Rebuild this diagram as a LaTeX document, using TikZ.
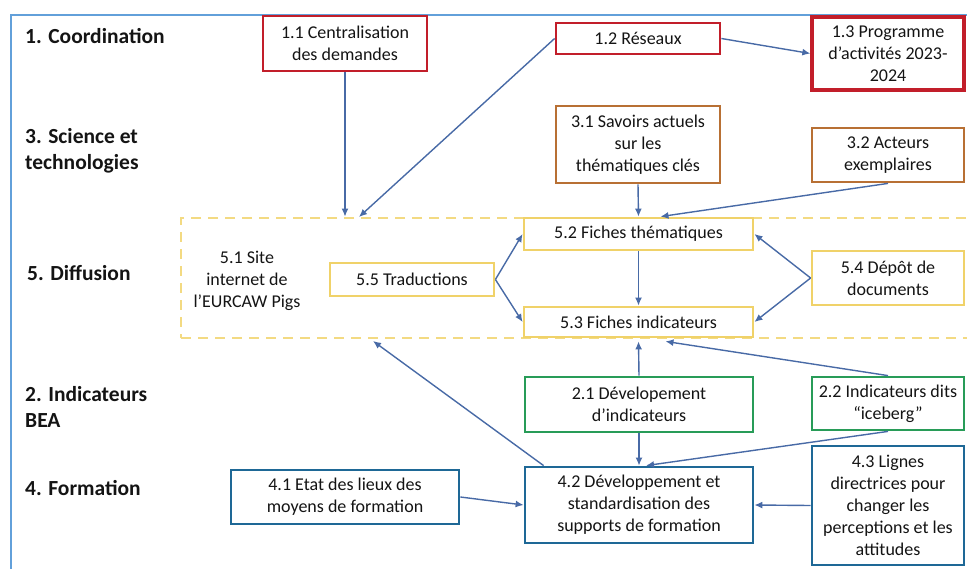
\documentclass[tikz,border=0pt]{standalone}
\usepackage{fontspec}
\setmainfont{Carlito}
\usepackage{tikz}
\usetikzlibrary{arrows.meta,calc}

\definecolor{cadre}{RGB}{98,160,218}
\definecolor{rouge}{RGB}{194,30,42}
\definecolor{brun}{RGB}{184,112,52}
\definecolor{jaune}{RGB}{240,210,105}
\definecolor{jauneclair}{RGB}{243,218,130}
\definecolor{vert}{RGB}{40,156,88}
\definecolor{bleuf}{RGB}{30,104,150}
\definecolor{fleches}{RGB}{72,106,166}
\definecolor{texte}{RGB}{20,20,20}

\begin{document}
\begin{tikzpicture}[x=1pt,y=-1pt,
    boite/.style={draw, line width=2.8pt, fill=white, align=center, inner sep=0pt,
        font=\fontsize{18}{22}\selectfont, text=texte},
    axe/.style={anchor=west, align=left, inner sep=0pt,
        font=\fontsize{21.5}{26}\selectfont\bfseries, text=texte},
    fleche/.style={draw=fleches, line width=1.4pt, -{Latex[length=8pt,width=7pt]}}]
    \useasboundingbox (0,0) rectangle (967,568);

    % Outer frame
    \draw[cadre, line width=2pt] (980,15) -- (11,15) -- (11,580);

    % Axis labels
    \node[axe] (axe1) at (25,36) {1. Coordination};
    \node[axe] (axe3) at (25,151) {3. Science et\\technologies};
    \node[axe] (axe5) at (27,273) {5. Diffusion};
    \node[axe] (axe2) at (25,407) {2. Indicateurs\\BEA};
    \node[axe] (axe4) at (25,488) {4. Formation};

    % Diffusion zone
    \node[draw=jauneclair, line width=2.8pt, dash pattern=on 10pt off 7pt,
        minimum width=800pt, minimum height=120pt, inner sep=0pt] (zone) at (581,278) {};
    \node[align=center, inner sep=0pt, font=\fontsize{18}{22}\selectfont, text=texte]
        (d51) at (247,281) {5.1 Site\\internet de\\l’EURCAW Pigs};

    % 1. Coordination
    \node[boite, draw=rouge, minimum width=164pt, minimum height=55pt] (c11) at (345,43.5)
        {1.1 Centralisation\\des demandes};
    \node[boite, draw=rouge, minimum width=164pt, minimum height=31pt] (c12) at (638,38.5)
        {1.2 Réseaux};
    \node[boite, draw=rouge, line width=3.3pt, minimum width=152pt, minimum height=73pt] (c13) at (888,53.5)
        {1.3 Programme\\d’activités 2023-\\2024};

    % 3. Science et technologies
    \node[boite, draw=brun, minimum width=164pt, minimum height=77pt] (s31) at (638,144.5)
        {3.1 Savoirs actuels\\sur les\\thématiques clés};
    \node[boite, draw=brun, minimum width=152pt, minimum height=54pt] (s32) at (888,155)
        {3.2 Acteurs\\exemplaires};

    % 5. Diffusion
    \node[boite, draw=jaune, minimum width=164pt, minimum height=33pt] (d55) at (412,279.5)
        {5.5 Traductions};
    \node[boite, draw=jaune, minimum width=229pt, minimum height=32pt] (d52) at (638.5,234)
        {5.2 Fiches thématiques};
    \node[boite, draw=jaune, minimum width=229pt, minimum height=30pt] (d53) at (638.5,322)
        {5.3 Fiches indicateurs};
    \node[boite, draw=jaune, minimum width=152pt, minimum height=54pt] (d54) at (888,278)
        {5.4 Dépôt de\\documents};

    % 2. Indicateurs BEA
    \node[boite, draw=vert, minimum width=228pt, minimum height=55pt] (i21) at (639,404.5)
        {2.1 Dévelopement\\d’indicateurs};
    \node[boite, draw=vert, minimum width=152pt, minimum height=53pt] (i22) at (888,403.5)
        {2.2 Indicateurs dits\\“iceberg”};

    % 4. Formation
    \node[boite, draw=bleuf, minimum width=228pt, minimum height=54pt] (f41) at (345,497)
        {4.1 Etat des lieux des\\moyens de formation};
    \node[boite, draw=bleuf, minimum width=228pt, minimum height=76pt] (f42) at (639,505)
        {4.2 Développement et\\standardisation des\\supports de formation};
    \node[boite, draw=bleuf, minimum width=152pt, minimum height=119pt] (f43) at (888,505.5)
        {4.3 Lignes\\directrices pour\\changer les\\perceptions et les\\attitudes};

    % Free ends on the zone border
    \coordinate (z1) at (359,217);
    \coordinate (z2) at (373,341);

    % Connectors
    \draw[fleche] (c11.south) -- (c11.south |- zone.north);
    \draw[fleche] (c12.west) -- (z1);
    \draw[fleche] (c12.east) -- (c13.west);
    \draw[fleche] (s31.south) -- (d52.north);
    \draw[fleche] (s32.south) -- ([xshift=22pt]d52.north);
    \draw[fleche] (d55.east) -- (d52.west);
    \draw[fleche] (d55.east) -- (d53.west);
    \draw[fleche] (d52.south) -- (d53.north);
    \draw[fleche] (d54.west) -- (d52.east);
    \draw[fleche] (d54.west) -- (d53.east);
    \draw[fleche] (i21.north) -- ([yshift=-3pt]d53.south);
    \draw[fleche] (i22.north) -- ([xshift=27pt,yshift=-3pt]d53.south);
    \draw[fleche] ([xshift=20pt]f42.north west) -- (z2);
    \draw[fleche] (f41.east) -- (f42.west);
    \draw[fleche] (i21.south) -- (f42.north);
    \draw[fleche] (i22.south) -- ([xshift=7pt]f42.north);
    \draw[fleche] (f43.west) -- (f42.east);
\end{tikzpicture}
\end{document}
